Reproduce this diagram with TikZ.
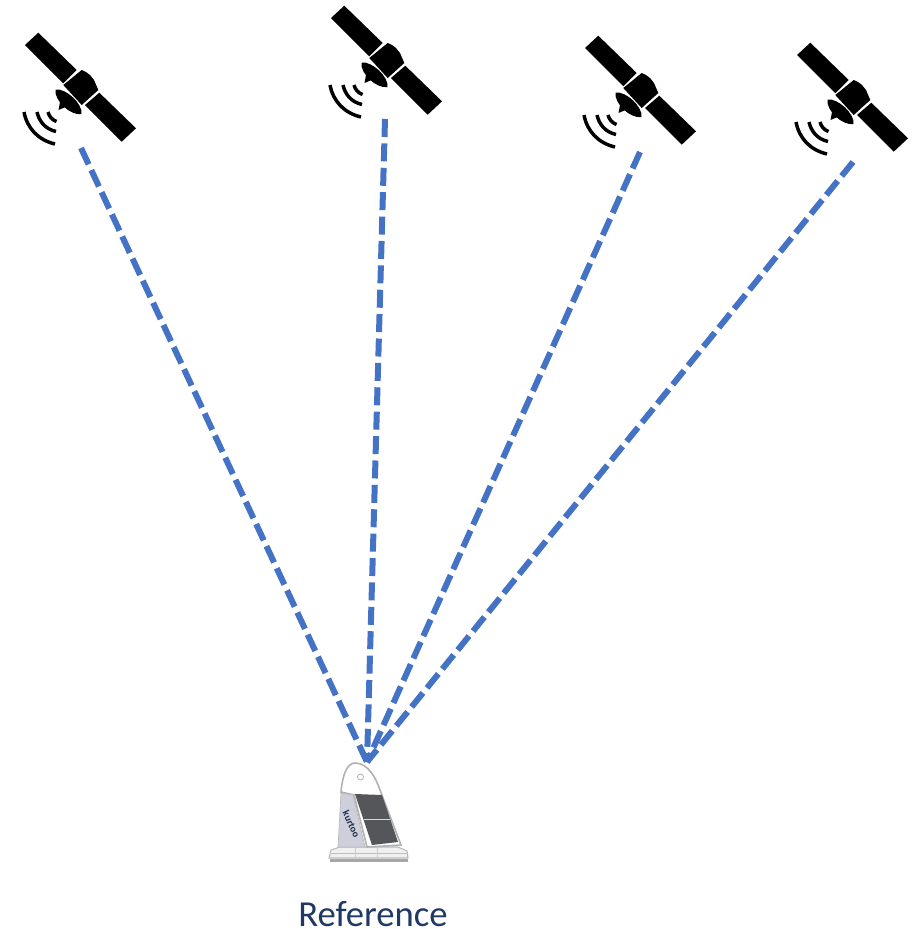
\documentclass[tikz,border=0pt]{standalone}
\usepackage{fontspec}
\setmainfont{Carlito}
\definecolor{linkblue}{HTML}{4472C4}
\definecolor{labelblue}{HTML}{203864}
\definecolor{sidegrey}{HTML}{CFCFDB}
\definecolor{panelgrey}{HTML}{55565A}
\tikzset{
  px/.style={x=0.75pt,y=-0.75pt},
  signal/.style={draw=linkblue,line width=4.5pt,dash pattern=on 13.5pt off 4.8pt},
  wave/.style={draw=black,line width=2.6pt},
  satellite/.pic={
    \fill[black] (28.3,12.7) -- (66.7,50) -- (53.3,63.3) -- (15,25) -- cycle;
    \fill[black] (71.7,50) -- (76,52) -- (80,55) -- (84,60) -- (88.3,70) -- (71.7,85) -- (53.3,65) -- cycle;
    \fill[black] (89.3,72.7) -- (126,108.3) -- (111.7,121.7) -- (75,85) -- cycle;
    \fill[black] (45.5,69.5) .. controls (56,68) and (73,84) .. (71.5,94) .. controls (61,96) and (44,81) .. (45.5,69.5) -- cycle;
    \fill[black] (50,82) -- (48.5,90) -- (58,86) -- cycle;
    \draw[wave] (14,92) .. controls (17,108) and (28,120) .. (45,124);
    \draw[wave] (27,92) .. controls (29,101) and (35,109) .. (46,111.5);
    \draw[wave] (38,92) .. controls (39,96) and (42,100) .. (46.5,101.5);
  }
}
\begin{document}
\begin{tikzpicture}[px]
\useasboundingbox (0,0) rectangle (919,929);
\pic at (10,20) {satellite};
\pic at (316,-7) {satellite};
\pic at (570,23) {satellite};
\pic at (782,30) {satellite};
\coordinate (s1) at (81,148);
\coordinate (s2) at (385,119);
\coordinate (s3) at (640,152);
\coordinate (s4) at (853,162);
\coordinate (rx) at (367,762);
\draw[signal] (s1) -- (rx);
\draw[signal] (s2) -- (rx);
\draw[signal] (s3) -- (rx);
\draw[signal] (s4) -- (rx);
% receiver
\fill[gray!70] (330,859) rectangle (408,862);
\fill[gray!12,draw=gray!55,line width=0.8pt] (329,858) -- (331,850) -- (340,847) -- (398,847) -- (407,851) -- (408,858) -- cycle;
\draw[gray!50,line width=0.6pt] (331,853) -- (407,853);
\draw[gray!40,line width=0.6pt] (355,848) -- (355,858) (377,848) -- (377,858);
\fill[white,draw=gray!60,line width=1.2pt] (341,792) .. controls (343,770) and (349,763) .. (355,763) .. controls (368,763) and (376,778) .. (380,790) -- (401,845) -- (367,847) -- (354,795) -- cycle;
\fill[sidegrey,draw=gray!55,line width=0.5pt] (341,793) -- (353,795) -- (365,847) -- (338,847) -- cycle;
\fill[panelgrey] (355,794) -- (382,795) -- (398,842) -- (372,845) -- cycle;
\draw[gray!30,line width=0.5pt] (364,819) -- (390,819);
\draw[gray!60,line width=0.6pt] (360.5,777) circle (3);
\node[rotate=-65,font=\fontsize{7.5}{8}\selectfont\bfseries,text=labelblue!80!black,inner sep=0pt] (brand) at (351.5,824) {kurtoo};
\node[font=\fontsize{27.5}{30}\selectfont,text=labelblue,inner sep=0pt,anchor=base] (label) at (373,926) {Reference};
\end{tikzpicture}
\end{document}
